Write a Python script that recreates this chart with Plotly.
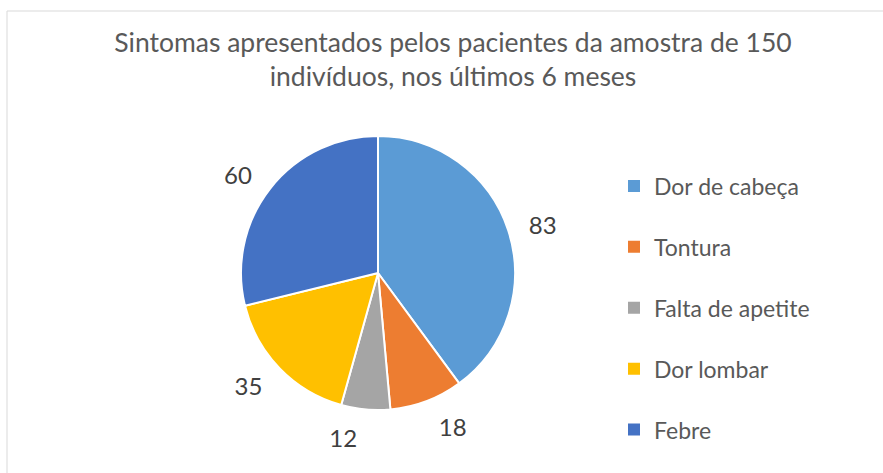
import plotly.graph_objects as go

categories = ["Dor de cabeça", "Tontura", "Falta de apetite", "Dor lombar", "Febre"]
values = [83, 18, 12, 35, 60]
colors = ["#5B9BD5", "#ED7D31", "#A5A5A5", "#FFC000", "#4472C4"]
title_lines = ["Sintomas apresentados pelos pacientes da amostra de 150", "indivíduos, nos últimos 6 meses"]

FONT = "Lato, 'Open Sans', sans-serif"
W, H = 883, 473
CX, CY, R, RT = 378, 273, 137, 151

def dom(r):
    return dict(x=[(CX - r) / W, (CX + r) / W], y=[(H - CY - r) / H, (H - CY + r) / H])

fig = go.Figure()
# visible pie
fig.add_trace(go.Pie(
    labels=categories, values=values, sort=False, direction="clockwise", rotation=0,
    marker=dict(colors=colors, line=dict(color="white", width=2)),
    textinfo="none", domain=dom(R),
    showlegend=False, automargin=False, hoverinfo="label+value",
))
# transparent companion pie only carrying the data labels a little further out
fig.add_trace(go.Pie(
    labels=categories, values=values, sort=False, direction="clockwise", rotation=0,
    marker=dict(colors=["rgba(0,0,0,0)"] * len(values), line=dict(width=0)),
    textinfo="value", textposition="outside",
    textfont=dict(family=FONT, size=24, color="#404040"),
    domain=dom(RT), showlegend=False, automargin=False, hoverinfo="skip",
))
for i, (c, col) in enumerate(zip(categories, colors)):
    fig.add_trace(go.Scatter(
        x=[None], y=[None], mode="markers", name=c, legendgroup=f"g{i}",
        marker=dict(symbol="square", size=10, color=col), showlegend=True,
    ))

fig.update_layout(
    width=W, height=H, margin=dict(l=0, r=0, t=0, b=0),
    paper_bgcolor="white", plot_bgcolor="white",
    xaxis=dict(visible=False), yaxis=dict(visible=False),
    title=dict(text="<br>".join(title_lines), x=453 / W, xanchor="center",
               y=(H - 52) / H, yanchor="top",
               font=dict(family=FONT, size=26.5, color="#595959")),
    legend=dict(x=614 / W, xanchor="left", y=(H - 308) / H, yanchor="middle",
                font=dict(family=FONT, size=23, color="#595959"),
                tracegroupgap=28, itemsizing="constant", bgcolor="rgba(0,0,0,0)"),
    shapes=[dict(type="rect", xref="paper", yref="paper", x0=7 / W, x1=1.01,
                 y0=-0.01, y1=(H - 11) / H, line=dict(color="#D9D9D9", width=1), layer="below")],
)
fig.write_html("out.html")
